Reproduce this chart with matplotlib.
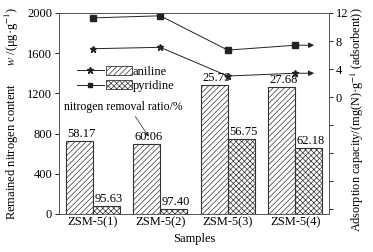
import matplotlib
matplotlib.use("Agg")
import matplotlib.pyplot as plt
import numpy as np
from matplotlib.lines import Line2D
from matplotlib.patches import Patch
from matplotlib.legend_handler import HandlerTuple

plt.rcParams['font.family'] = ['Liberation Serif', 'DejaVu Serif']
plt.rcParams['hatch.linewidth'] = 0.5
plt.rcParams['mathtext.fontset'] = 'stix'

samples = ["ZSM-5(1)", "ZSM-5(2)", "ZSM-5(3)", "ZSM-5(4)"]
aniline_content = [725, 697, 1283, 1264]
pyridine_content = [80, 50, 746, 657]
aniline_ratio = ["58.17", "60.06", "25.79", "27.68"]
pyridine_ratio = ["95.63", "97.40", "56.75", "62.18"]
aniline_capacity = [6.9, 7.1, 3.0, 3.4]
pyridine_capacity = [11.3, 11.6, 6.7, 7.4]

fig = plt.figure(figsize=(3.73, 2.52), dpi=100)
ax = fig.add_axes([59/373, 1-214/252, 270/373, 201/252])
x = np.arange(len(samples))
w = 0.4
fs = 9
ax.bar(x - w/2, aniline_content, w, facecolor='white', edgecolor='#333333', hatch='//////', linewidth=0.8)
ax.bar(x + w/2, pyridine_content, w, facecolor='white', edgecolor='#333333', hatch='xxxxxx', linewidth=0.8)
for xi, v, t in zip(x - w/2, aniline_content, aniline_ratio):
    ax.text(xi + 0.03, v + 8, t, ha='center', va='bottom', fontsize=fs)
for xi, v, t in zip(x + w/2, pyridine_content, pyridine_ratio):
    ax.text(xi + 0.03, v + 8, t, ha='center', va='bottom', fontsize=fs)
ax.set_xlim(-0.5, 3.5)
ax.set_ylim(0, 2000)
ax.set_yticks([0, 400, 800, 1200, 1600, 2000])
ax.set_xticks(x)
ax.set_xticklabels(samples)
ax.tick_params(labelsize=fs, length=3, width=0.6, pad=2)
ax.tick_params(axis='x', length=0)
for s in ax.spines.values():
    s.set_linewidth(0.6)
    s.set_color('#555555')
ax.set_xlabel("Samples", fontsize=fs, labelpad=3)
ax.set_ylabel("Remained nitrogen content      $w$ /(μg·g$^{-1}$)", fontsize=fs, labelpad=4)

ax2 = ax.twinx()
ax2.set_ylim(-16.7, 12)
ax2.set_yticks([-16, -12, -8, -4, 0, 4, 8, 12])
ax2.set_yticklabels(['', '', '', '', '0', '4', '8', '12'])
ax2.tick_params(labelsize=fs, length=3, width=0.6, pad=2)
for s in ax2.spines.values():
    s.set_linewidth(0.6)
    s.set_color('#555555')
ax2.plot(x, aniline_capacity, '-', color='#222222', lw=0.7, marker='*', ms=5)
ax2.plot(x, pyridine_capacity, '-', color='#222222', lw=0.7, marker='s', ms=4)
for vals in (aniline_capacity, pyridine_capacity):
    ax2.annotate('', xy=(3.32, vals[-1]), xytext=(x[-1], vals[-1]),
                 arrowprops=dict(arrowstyle='-|>', color='#222222', lw=0.7, mutation_scale=8))
ax2.set_ylabel("Adsorption capacity/(mg(N)·g$^{-1}$ (adsorbent))", fontsize=8.8)
ax2.yaxis.set_label_coords((349 - 59) / 270, 0.47)

ax.text(0.45, 1065, "nitrogen removal ratio/%", ha='center', va='center', fontsize=8.5)
ax.annotate("", xy=(0.83, 770), xytext=(0.63, 970),
            arrowprops=dict(arrowstyle='-|>', color='#222222', lw=0.5, mutation_scale=6,
                            shrinkA=0, shrinkB=0))

h1 = (Line2D([], [], color='#222222', lw=0.7, marker='*', ms=5),
      Patch(facecolor='white', edgecolor='#333333', hatch='//////', linewidth=0.6))
h2 = (Line2D([], [], color='#222222', lw=0.7, marker='s', ms=3.5),
      Patch(facecolor='white', edgecolor='#333333', hatch='xxxxxx', linewidth=0.6))
ax2.legend([h1, h2], ['aniline', 'pyridine'], handler_map={tuple: HandlerTuple(ndivide=2, pad=0.2)},
           loc='upper left', bbox_to_anchor=(0.04, 0.775), frameon=False, fontsize=fs,
           handlelength=4.4, handletextpad=0.05, labelspacing=0.2, borderpad=0.1)

fig.savefig("out.png", dpi=100)
